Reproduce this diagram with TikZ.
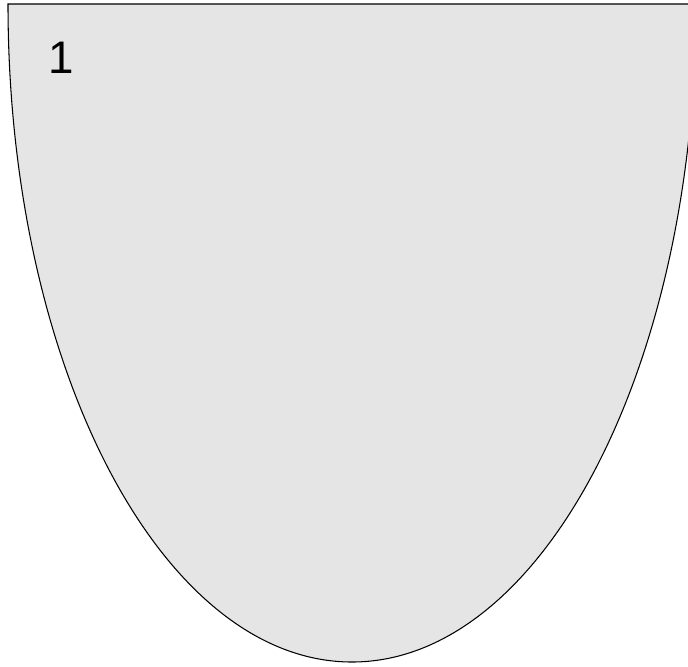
\documentclass[tikz,border=0pt]{standalone}
\usepackage{fontspec}
\setmainfont{Liberation Sans}
\usepackage{xcolor}
\usetikzlibrary{positioning}
\definecolor{cupgray}{HTML}{E5E5E5}

\begin{document}
\begin{tikzpicture}[x=0.02cm, y=-0.02cm,
  every node/.style={font=\fontsize{26}{30}\selectfont},
  cup/.style={draw=black, fill=cupgray, line width=0.6pt}
]
  \useasboundingbox (0,0) rectangle (688,666);
  \clip (0,0) rectangle (688,666);

  % lower half of an ellipse, cut off at the right edge
  \draw[cup] (8,4) arc[start angle=180, end angle=0, x radius=344, y radius=658] -- cycle;

  \node (lbl) at (61,58) {1};
\end{tikzpicture}
\end{document}
